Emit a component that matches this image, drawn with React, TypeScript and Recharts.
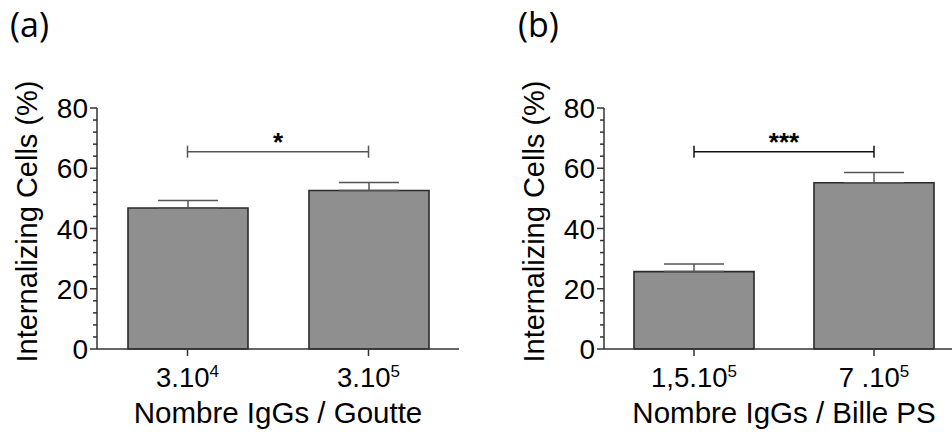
import { BarChart, Bar, XAxis, YAxis, ErrorBar, ReferenceLine, Label } from 'recharts'

// panel (a): IgGs per droplet
const catsA = ['3.10^4', '3.10^5']
const tickBaseA = ['3.10', '3.10']
const tickExpA = ['4', '5']
const meansA = [46.8, 52.6]
const semA = [2.5, 2.7]

// panel (b): IgGs per PS bead
const catsB = ['1,5.10^5', '7 .10^5']
const tickBaseB = ['1,5.10', '7 .10']
const tickExpB = ['5', '5']
const meansB = [25.7, 55.2]
const semB = [2.5, 3.4]

const yTicks = [0, 4, 8, 12, 16, 20, 24, 28, 32, 36, 40, 44, 48, 52, 56, 60, 64, 68, 72, 76, 80]
const sigY = 65.5
const sigCap = 2
const sigLabelA = '*'
const sigLabelB = '***'

const FONT = '"Liberation Sans", Arial, sans-serif'
const AXIS = '#333'
const INK = '#000'

const YTick = (props: any) => {
  const { x, y, payload } = props
  const major = payload.value % 20 === 0
  return (
    <g>
      <line x1={x} x2={x - (major ? 7 : 4)} y1={y} y2={y} stroke={AXIS} strokeWidth={1.5} />
      {major && (
        <text x={x - 9} y={y} dy="0.36em" textAnchor="end" fontSize={28} fontFamily={FONT} fill={INK}>
          {payload.value}
        </text>
      )}
    </g>
  )
}

const makeXTick = (bases: string[], exps: string[]) => (props: any) => {
  const { x, y, index } = props
  return (
    <text x={x} y={y + 31} textAnchor="middle" fontSize={27.5} fontFamily={FONT} fill={INK}>
      <tspan>{bases[index]}</tspan>
      <tspan dy={-10} fontSize={17}>{exps[index]}</tspan>
    </text>
  )
}

type PanelProps = {
  cats: string[]
  means: number[]
  sem: number[]
  bases: string[]
  exps: string[]
  width: number
  axisWidth: number
  marginRight: number
  xTitle: string
  sigLabel: string
  sigColor: string
}

function Panel({ cats, means, sem, bases, exps, width, axisWidth, marginRight, xTitle, sigLabel, sigColor }: PanelProps) {
  const data = cats.map((c, i) => ({ name: c, value: means[i], err: [0, sem[i]] }))
  return (
    <BarChart
      width={width}
      height={432}
      data={data}
      margin={{ top: 108, right: marginRight, left: 0, bottom: 0 }}
      style={{ fontFamily: FONT }}
    >
      <XAxis
        dataKey="name"
        height={83}
        tickSize={7}
        tickMargin={0}
        tickLine={{ stroke: AXIS, strokeWidth: 1.5 }}
        axisLine={{ stroke: AXIS, strokeWidth: 1.5 }}
        tick={makeXTick(bases, exps)}
        interval={0}
      >
        <Label
          content={(p: any) => {
            const vb = p.viewBox
            return (
              <text x={vb.x + vb.width / 2} y={vb.y + 74} textAnchor="middle" fontSize={29.5} fontFamily={FONT} fill={INK}>
                {xTitle}
              </text>
            )
          }}
        />
      </XAxis>
      <YAxis
        type="number"
        domain={[0, 80]}
        ticks={yTicks}
        interval={0}
        width={axisWidth}
        tickSize={0}
        tickMargin={0}
        tickLine={false}
        axisLine={{ stroke: AXIS, strokeWidth: 1.5 }}
        tick={YTick}
      >
        <Label
          content={(p: any) => {
            const vb = p.viewBox
            const cx = vb.x + vb.width - 70
            const cy = vb.y + vb.height / 2 - 7
            return (
              <text
                x={cx}
                y={cy}
                transform={`rotate(-90 ${cx} ${cy})`}
                textAnchor="middle"
                dominantBaseline="central"
                fontSize={29}
                fontFamily={FONT}
                fill={INK}
              >
                Internalizing Cells (%)
              </text>
            )
          }}
        />
      </YAxis>
      <Bar dataKey="value" barSize={120} fill="#8e8f8e" stroke="#2a2a2a" strokeWidth={1.6} isAnimationActive={false}>
        <ErrorBar dataKey="err" width={30} stroke="#555" strokeWidth={1.5} direction="y" />
      </Bar>
      <ReferenceLine
        segment={[{ x: cats[0], y: sigY }, { x: cats[1], y: sigY }]}
        stroke={sigColor}
        strokeWidth={1.5}
        label={{ value: sigLabel, position: 'top', offset: 1, fontSize: 26, fontWeight: 'bold', fill: INK, fontFamily: FONT }}
      />
      <ReferenceLine segment={[{ x: cats[0], y: sigY - sigCap }, { x: cats[0], y: sigY + sigCap }]} stroke={sigColor} strokeWidth={1.5} />
      <ReferenceLine segment={[{ x: cats[1], y: sigY - sigCap }, { x: cats[1], y: sigY + sigCap }]} stroke={sigColor} strokeWidth={1.5} />
    </BarChart>
  )
}

export default function App() {
  return (
    <div style={{ position: 'absolute', left: 0, top: 0, width: 952, height: 432, overflow: 'hidden', background: '#fff' }}>
      <div style={{ position: 'absolute', left: 0, top: 0, width: 476, height: 432 }}>
        <Panel
          cats={catsA}
          means={meansA}
          sem={semA}
          bases={tickBaseA}
          exps={tickExpA}
          width={476}
          axisWidth={97}
          marginRight={17}
          xTitle="Nombre IgGs / Goutte"
          sigLabel={sigLabelA}
          sigColor="#555"
        />
      </div>
      <div style={{ position: 'absolute', left: 476, top: 0, width: 476, height: 432, overflow: 'hidden' }}>
        <Panel
          cats={catsB}
          means={meansB}
          sem={semB}
          bases={tickBaseB}
          exps={tickExpB}
          width={488}
          axisWidth={128}
          marginRight={0}
          xTitle="Nombre IgGs / Bille PS"
          sigLabel={sigLabelB}
          sigColor="#111"
        />
      </div>
      <svg width={952} height={432} style={{ position: 'absolute', left: 0, top: 0, pointerEvents: 'none' }}>
        <text x={10} y={37} fontSize={34} fontFamily='"Open Sans", sans-serif' fill={INK}>(a)</text>
        <text x={518} y={37} fontSize={34} fontFamily='"Open Sans", sans-serif' fill={INK}>(b)</text>
      </svg>
    </div>
  )
}
